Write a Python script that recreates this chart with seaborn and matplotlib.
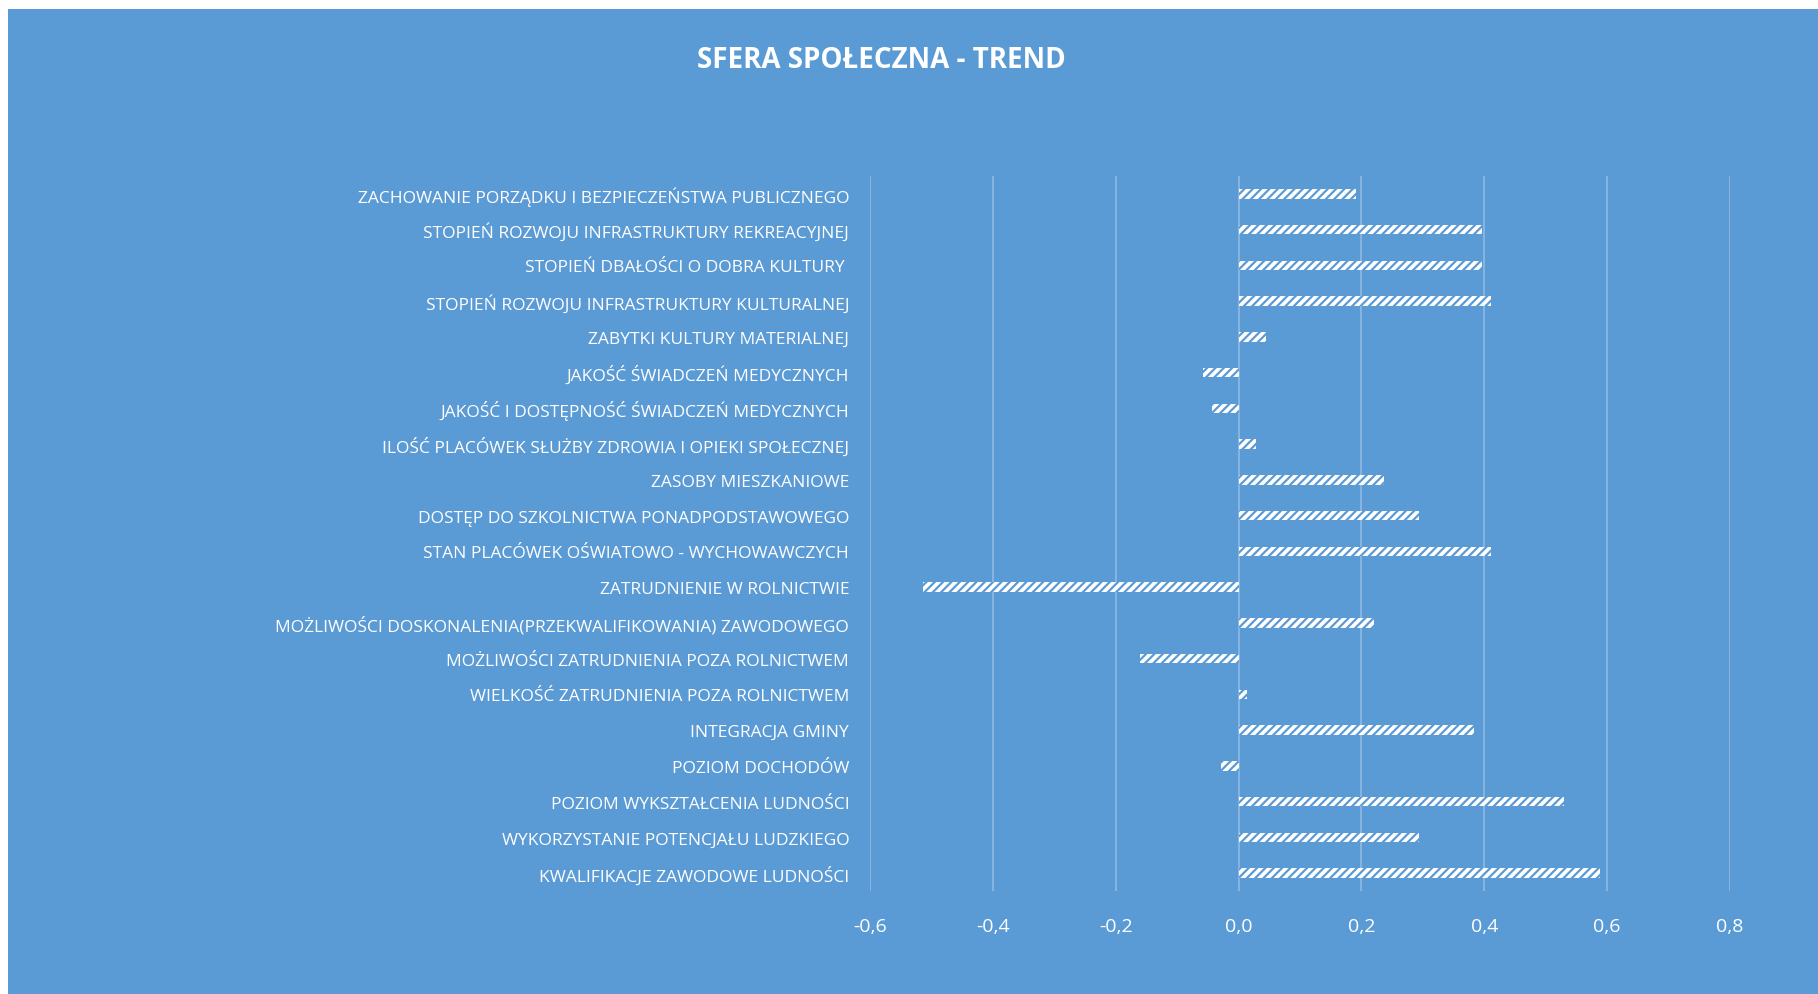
import matplotlib
matplotlib.use("Agg")
import matplotlib.pyplot as plt
from matplotlib.patches import Rectangle
from matplotlib.ticker import FuncFormatter, MultipleLocator
import seaborn as sns
import pandas as pd

categories = [
    "ZACHOWANIE PORZĄDKU I BEZPIECZEŃSTWA PUBLICZNEGO",
    "STOPIEŃ ROZWOJU INFRASTRUKTURY REKREACYJNEJ",
    "STOPIEŃ DBAŁOŚCI O DOBRA KULTURY ",
    "STOPIEŃ ROZWOJU INFRASTRUKTURY KULTURALNEJ",
    "ZABYTKI KULTURY MATERIALNEJ",
    "JAKOŚĆ ŚWIADCZEŃ MEDYCZNYCH",
    "JAKOŚĆ I DOSTĘPNOŚĆ ŚWIADCZEŃ MEDYCZNYCH",
    "ILOŚĆ PLACÓWEK SŁUŻBY ZDROWIA I OPIEKI SPOŁECZNEJ",
    "ZASOBY MIESZKANIOWE",
    "DOSTĘP DO SZKOLNICTWA PONADPODSTAWOWEGO",
    "STAN PLACÓWEK OŚWIATOWO - WYCHOWAWCZYCH",
    "ZATRUDNIENIE W ROLNICTWIE",
    "MOŻLIWOŚCI DOSKONALENIA(PRZEKWALIFIKOWANIA) ZAWODOWEGO",
    "MOŻLIWOŚCI ZATRUDNIENIA POZA ROLNICTWEM",
    "WIELKOŚĆ ZATRUDNIENIA POZA ROLNICTWEM",
    "INTEGRACJA GMINY",
    "POZIOM DOCHODÓW",
    "POZIOM WYKSZTAŁCENIA LUDNOŚCI",
    "WYKORZYSTANIE POTENCJAŁU LUDZKIEGO",
    "KWALIFIKACJE ZAWODOWE LUDNOŚCI",
]
trend = [0.191, 0.397, 0.397, 0.411, 0.044, -0.058, -0.044, 0.029, 0.236, 0.294,
         0.411, -0.513, 0.221, -0.161, 0.014, 0.383, -0.029, 0.529, 0.294, 0.588]
title = "SFERA SPOŁECZNA - TREND"

BLUE = "#5B9BD5"
GRID = "#8FB9E3"

df = pd.DataFrame({"kategoria": categories, "trend": trend})

sns.set_theme(style="white")
plt.rcParams["font.family"] = ["Open Sans", "DejaVu Sans"]
plt.rcParams["hatch.linewidth"] = 1.6
plt.rcParams["hatch.color"] = BLUE

W, H = 1818, 995
fig = plt.figure(figsize=(W / 100, H / 100), dpi=100, facecolor="white")
fig.patches.append(Rectangle((8 / W, 0), 1, (H - 10) / H, transform=fig.transFigure,
                             facecolor=BLUE, edgecolor="none", zorder=-10))

ax = fig.add_axes([870 / W, 1 - 892 / H, 860 / W, 715 / H])
ax.set_facecolor("none")
ax.set_zorder(5)

sns.barplot(data=df, x="trend", y="kategoria", orient="h", color="white",
            width=0.26, ax=ax, edgecolor=BLUE, linewidth=0, hatch="////",
            saturation=1, zorder=3)
for p in ax.patches:
    p.set_facecolor("white")
    p.set_edgecolor(BLUE)
    p.set_linewidth(0)
    p.set_hatch("////")

ax.set_xlim(-0.6, 0.8)
ax.xaxis.set_major_locator(MultipleLocator(0.2))
ax.xaxis.set_major_formatter(FuncFormatter(lambda v, _: f"{v:.1f}".replace("-0.0", "0.0").replace(".", ",")))
ax.grid(axis="x", color=GRID, linewidth=1.2, zorder=0)
ax.grid(axis="y", visible=False)
for s in ax.spines.values():
    s.set_visible(False)
ax.set_xlabel("")
ax.set_ylabel("")
ax.tick_params(axis="x", length=0, pad=19, labelsize=14, labelcolor="white")
ax.tick_params(axis="y", length=0, pad=15, labelsize=12.5, labelcolor="white")

fig.text(881 / W, 1 - 61 / H, title, ha="center", va="center", color="white",
         fontsize=20, fontweight="bold", zorder=10)

fig.savefig("out.png", dpi=100, facecolor="white")
